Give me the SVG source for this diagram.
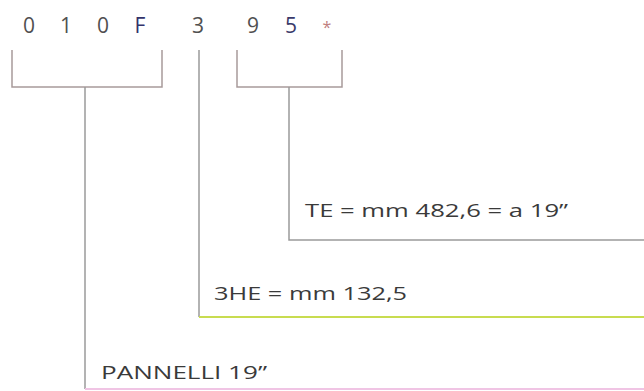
<svg xmlns="http://www.w3.org/2000/svg" width="644" height="391" viewBox="0 0 644 391">
<style>
.code{font-family:"Open Sans","Liberation Sans",sans-serif;font-size:21px;fill:#505050;text-anchor:middle}
.lbl{font-family:"Open Sans","Liberation Sans",sans-serif;font-size:18px;fill:#3a3a3a}
.ln{fill:none;stroke:#9a9a9a;stroke-width:1.5}
</style>
<rect width="644" height="391" fill="#ffffff"/>
<g id="code">
<text class="code" x="29" y="33">0</text>
<text class="code" x="66" y="33">1</text>
<text class="code" x="103" y="33">0</text>
<text class="code" x="140" y="33" style="fill:#33336a">F</text>
<text class="code" x="198" y="33">3</text>
<text class="code" x="253" y="33">9</text>
<text class="code" x="291" y="33" style="fill:#3a3a6a">5</text>
<text class="code" x="327" y="33" style="fill:#c08080;font-size:16px">*</text>
</g>
<g id="connectors">
<path class="ln" d="M12,50 V87 H162 V50" style="stroke:#a89a9a"/>
<path class="ln" d="M237,50 V87 H342 V50" style="stroke:#a89a9a"/>
<path class="ln" d="M85,87 V389"/>
<path class="ln" d="M199,50 V317"/>
<path class="ln" d="M289,87 V240 H644"/>
<path class="ln" d="M199,317 H644" style="stroke:#c8dc50;stroke-width:2"/>
<path class="ln" d="M85,389 H644" style="stroke:#f0c4e4;stroke-width:2"/>
</g>
<g id="te">
<text class="lbl" x="305" y="217" textLength="263" lengthAdjust="spacingAndGlyphs">TE = mm  482,6 = a 19”</text>
</g>
<g id="he">
<text class="lbl" x="214" y="300" textLength="193" lengthAdjust="spacingAndGlyphs">3HE = mm 132,5</text>
</g>
<g id="pannelli">
<text class="lbl" x="101" y="379" textLength="166" lengthAdjust="spacingAndGlyphs">PANNELLI 19”</text>
</g>
</svg>
